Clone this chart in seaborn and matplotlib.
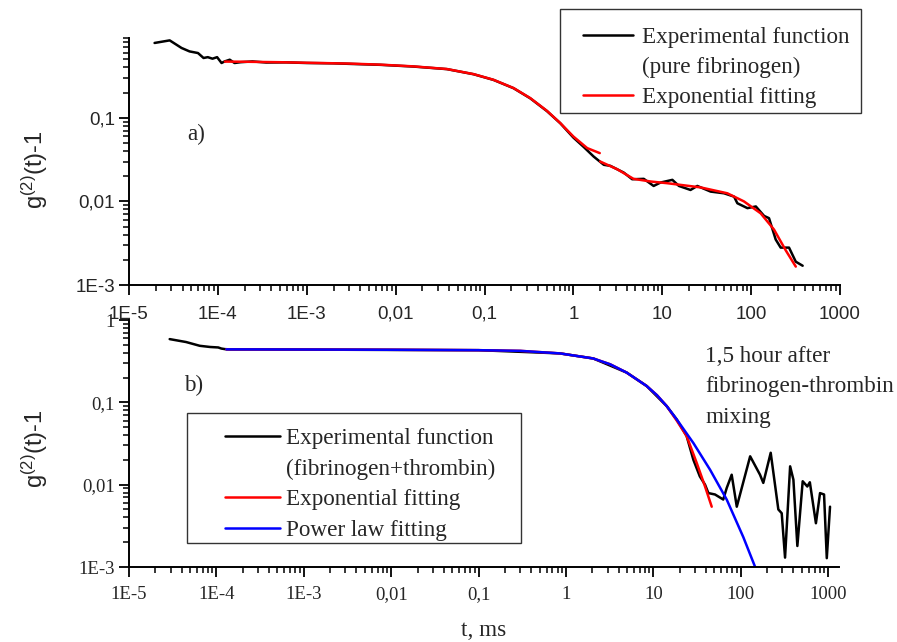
import matplotlib
matplotlib.use('Agg')
import matplotlib.pyplot as plt
from matplotlib.lines import Line2D
from matplotlib.patches import Rectangle
from matplotlib.ticker import LogLocator, NullFormatter
import seaborn as sns

# ---- panel a): pure fibrinogen ----
a_exp_t = [1.94e-5, 2.87e-5, 3.9e-5, 4.8e-5, 5.97e-5, 6.9e-5, 7.7e-5, 8.7e-5, 9.8e-5,
           1.1e-4, 1.19e-4, 1.36e-4, 1.54e-4, 1.8e-4, 2.45e-4, 3.5e-4, 5.9e-4, 1e-3,
           2e-3, 3.3e-3, 6.7e-3, 0.0158, 0.0377, 0.0752, 0.126, 0.212, 0.327, 0.505,
           0.713, 1.0, 1.3, 1.69, 2.2, 2.61, 3.69, 4.59, 6.2, 8.0, 9.55, 13.0, 15.4,
           20.8, 24.8, 35, 49.6, 64.3, 70, 90.9, 113, 140, 159, 189, 215, 267, 318, 380]
a_exp_g = [0.785, 0.843, 0.684, 0.622, 0.595, 0.519, 0.531, 0.509, 0.531,
           0.452, 0.472, 0.495, 0.452, 0.462, 0.472, 0.458, 0.46, 0.452,
           0.448, 0.44, 0.43, 0.41, 0.382, 0.332, 0.284, 0.226, 0.171, 0.12,
           0.086, 0.058, 0.045, 0.0344, 0.0274, 0.0266, 0.0221, 0.0184, 0.0186, 0.0153,
           0.0168, 0.0181, 0.0153, 0.0137, 0.0153, 0.0131, 0.0125, 0.0114, 0.0095,
           0.0083, 0.0087, 0.0067, 0.0063, 0.0035, 0.0028, 0.0028, 0.0019, 0.0017]

a_fit1_t = [1.2e-4, 2e-4, 5e-4, 1e-3, 3e-3, 6.7e-3, 0.0158, 0.0377, 0.0752, 0.126,
            0.212, 0.327, 0.505, 0.713, 1.0, 1.43, 1.98]
a_fit1_g = [0.47, 0.468, 0.462, 0.455, 0.445, 0.432, 0.412, 0.383, 0.333, 0.285,
            0.227, 0.172, 0.121, 0.0863, 0.0597, 0.0434, 0.0378]

a_fit2_t = [2.0, 3.1, 4.75, 7.4, 11.4, 27, 54, 83, 128, 181, 245, 318]
a_fit2_g = [0.030, 0.0243, 0.0186, 0.0173, 0.0165, 0.0147, 0.0125, 0.0100,
            0.0072, 0.0046, 0.0026, 0.00166]

# ---- panel b): fibrinogen + thrombin ----
b_exp_t = [2.92e-5, 4.5e-5, 6.45e-5, 8.5e-5, 1.05e-4, 1.14e-4, 1.25e-4, 1.4e-4, 3e-4,
           1e-3, 0.01, 0.1, 0.853, 2.05, 4.94, 8.37, 14.2, 18.5, 24, 28.7, 34, 39,
           42.6, 50.7, 63, 69, 78.7, 90, 128, 166, 181, 220, 269, 294, 321, 367, 400,
           444, 511, 577, 617, 724, 807, 897, 964, 1050]
b_exp_g = [0.586, 0.54, 0.486, 0.47, 0.464, 0.45, 0.443, 0.44, 0.44,
           0.437, 0.433, 0.43, 0.393, 0.341, 0.230, 0.158, 0.090, 0.062, 0.039,
           0.020, 0.0126, 0.0100, 0.0079, 0.0076, 0.0066, 0.0091, 0.0132, 0.0054,
           0.0221, 0.0132, 0.0105, 0.0244, 0.005, 0.0045, 0.0013, 0.0167, 0.0115,
           0.0018, 0.011, 0.0095, 0.0107, 0.0034, 0.0079, 0.0076, 0.00128, 0.0054]

b_exp_fit_t = [1.3e-4, 1e-3, 0.01, 0.1, 0.3, 0.853, 2.05, 3.2, 4.94, 8.37, 11, 14.2,
               18.5, 24, 31.3, 39, 46.5]
b_exp_fit_g = [0.44, 0.438, 0.435, 0.43, 0.422, 0.393, 0.341, 0.29, 0.230, 0.158,
               0.122, 0.090, 0.060, 0.039, 0.0184, 0.0095, 0.0054]

b_pow_fit_t = [1.3e-4, 1e-3, 0.01, 0.1, 0.3, 0.853, 2.05, 3.2, 4.94, 8.37, 11, 14.2,
               18.5, 23, 28.7, 44.5, 69, 107, 146]
b_pow_fit_g = [0.44, 0.438, 0.435, 0.43, 0.422, 0.393, 0.341, 0.29, 0.230, 0.158,
               0.122, 0.090, 0.062, 0.0447, 0.032, 0.0152, 0.0066, 0.0023, 0.001]

x_ticks = [1e-5, 1e-4, 1e-3, 1e-2, 0.1, 1, 10, 100, 1000]
x_labels = ['1E-5', '1E-4', '1E-3', '0,01', '0,1', '1', '10', '100', '1000']
y_ticks = [1e-3, 1e-2, 0.1, 1]
y_labels = ['1E-3', '0,01', '0,1', '1']

sns.set_style('ticks')
plt.rcParams['font.family'] = ['Liberation Sans', 'DejaVu Sans']
plt.rcParams['mathtext.default'] = 'regular'
SERIF = ['Liberation Serif', 'DejaVu Serif']
W, H = 897, 642
FS = 16.7      # serif annotation / legend size
TICK_FS = 13.5

fig = plt.figure(figsize=(W / 100, H / 100), dpi=100)
ax_a = fig.add_axes([129 / W, 1 - 285 / H, 711 / W, 247 / H])
ax_b = fig.add_axes([129 / W, 1 - 567 / H, 710 / W, 247 / H])
# lower panel must not hide the upper panel's tick labels
ax_b.set_facecolor('none')

for ax in (ax_a, ax_b):
    ax.set_xscale('log')
    ax.set_yscale('log')

lw = 1.8
sns.lineplot(x=a_exp_t, y=a_exp_g, ax=ax_a, color='black', lw=lw, estimator=None, sort=False)
sns.lineplot(x=a_fit1_t, y=a_fit1_g, ax=ax_a, color='red', lw=lw, estimator=None, sort=False)
sns.lineplot(x=a_fit2_t, y=a_fit2_g, ax=ax_a, color='red', lw=lw, estimator=None, sort=False)

sns.lineplot(x=b_exp_t, y=b_exp_g, ax=ax_b, color='black', lw=lw, estimator=None, sort=False)
sns.lineplot(x=b_exp_fit_t, y=b_exp_fit_g, ax=ax_b, color='red', lw=lw, estimator=None, sort=False)
sns.lineplot(x=b_pow_fit_t, y=b_pow_fit_g, ax=ax_b, color='#0000ff', lw=lw, estimator=None, sort=False)

ax_a.set_xlim(1e-5, 1000)
ax_a.set_ylim(1e-3, 0.9)
ax_b.set_xlim(1e-5, 1330)
ax_b.set_ylim(1e-3, 1)

# panel a uses sans tick labels, panel b serif ones
ax_a.set_xticks(x_ticks, x_labels, fontsize=TICK_FS)
ax_a.set_yticks(y_ticks[:3], y_labels[:3], fontsize=TICK_FS)
ax_b.set_xticks(x_ticks, x_labels, fontsize=TICK_FS, family=SERIF)
ax_b.set_yticks(y_ticks, y_labels, fontsize=TICK_FS, family=SERIF)

for ax in (ax_a, ax_b):
    ax.xaxis.set_minor_locator(LogLocator(base=10, subs=range(2, 10), numticks=20))
    ax.yaxis.set_minor_locator(LogLocator(base=10, subs=range(2, 10), numticks=20))
    ax.xaxis.set_minor_formatter(NullFormatter())
    ax.yaxis.set_minor_formatter(NullFormatter())
    ax.tick_params(which='major', length=7, width=1.3, color='black', direction='out')
    ax.tick_params(which='minor', length=4, width=1.1, color='black', direction='out')
    ax.set_xlabel('')
    ax.set_ylabel('')
    sns.despine(ax=ax)
    for s in ('left', 'bottom'):
        ax.spines[s].set_linewidth(1.4)
        ax.spines[s].set_color('black')
ax_a.tick_params(axis='x', which='major', pad=8)
ax_a.tick_params(axis='y', which='major', pad=3)
ax_b.tick_params(axis='x', which='major', pad=7)
ax_b.tick_params(axis='y', which='major', pad=3)

# axis titles
ylab = r'g$^{(2)}$(t)-1'
fig.text(35 / W, 1 - 170 / H, ylab, rotation=90, ha='center', va='center', fontsize=17)
fig.text(35 / W, 1 - 449 / H, ylab, rotation=90, ha='center', va='center', fontsize=17)
fig.text(484 / W, 1 - 636 / H, 't, ms', ha='center', va='baseline', fontsize=FS, family=SERIF)

# annotations
fig.text(196 / W, 1 - 134 / H, 'a)', ha='center', va='center', fontsize=FS, family=SERIF)
fig.text(194 / W, 1 - 385 / H, 'b)', ha='center', va='center', fontsize=FS, family=SERIF)
fig.text(705 / W, 1 - 346 / H, '1,5 hour after\nfibrinogen-thrombin\nmixing',
         ha='left', va='top', fontsize=FS, family=SERIF, linespacing=1.58)

# legends
leg_a = fig.legend(
    [Line2D([], [], color='black', lw=lw), Line2D([], [], color='none'),
     Line2D([], [], color='red', lw=lw)],
    ['Experimental function', '(pure fibrinogen)', 'Exponential fitting'],
    loc='upper left', bbox_to_anchor=(583 / W, 1 - 27 / H), frameon=False,
    prop={'family': SERIF, 'size': FS}, handlelength=2.15, handletextpad=0.38,
    labelspacing=0.37, borderpad=0, borderaxespad=0)
fig.add_artist(Rectangle((560 / W, 1 - 113 / H), 301 / W, 104 / H, transform=fig.transFigure,
                         fill=False, edgecolor='#333333', lw=1.0))

leg_b = fig.legend(
    [Line2D([], [], color='black', lw=lw), Line2D([], [], color='none'),
     Line2D([], [], color='red', lw=lw), Line2D([], [], color='#0000ff', lw=lw)],
    ['Experimental function', '(fibrinogen+thrombin)', 'Exponential fitting',
     'Power law fitting'],
    loc='upper left', bbox_to_anchor=(225 / W, 1 - 428 / H), frameon=False,
    prop={'family': SERIF, 'size': FS}, handlelength=2.35, handletextpad=0.26,
    labelspacing=0.4, borderpad=0, borderaxespad=0)
fig.add_artist(Rectangle((187 / W, 1 - 543 / H), 334 / W, 130 / H, transform=fig.transFigure,
                         fill=False, edgecolor='#333333', lw=1.0))

fig.savefig('out.png', dpi=100)
